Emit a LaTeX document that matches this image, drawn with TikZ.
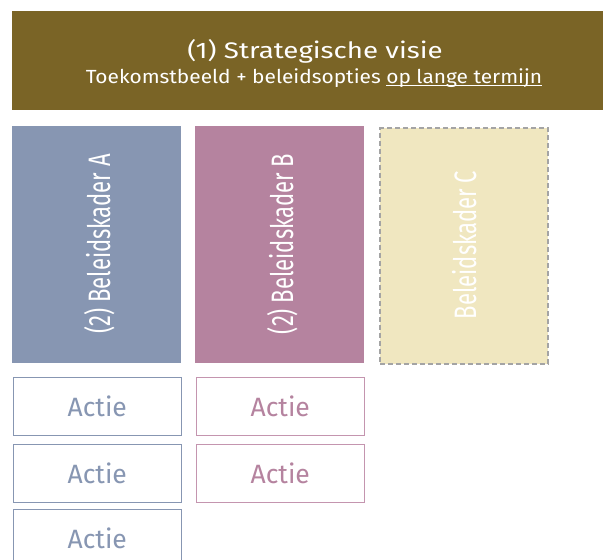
\documentclass[tikz,border=0pt]{standalone}
\usepackage{fontspec}
\setmainfont{Fira Sans}
\definecolor{banner}{HTML}{7A6426}
\definecolor{colA}{HTML}{8796B2}
\definecolor{colB}{HTML}{B5839F}
\definecolor{colBline}{HTML}{C495AF}
\definecolor{colC}{HTML}{F0E7C0}
\definecolor{dashgray}{HTML}{A4A4A4}
\tikzset{
  kader/.style={minimum width=169pt, minimum height=237pt, inner sep=0pt, text=white},
  actie/.style={draw, line width=1.3pt, fill=white, minimum width=168pt, minimum height=58pt, inner sep=0pt, font=\fontsize{26.5}{30}\selectfont},
  vlabel/.style={font=\fontsize{31}{34}\selectfont, rotate=90, anchor=base, inner sep=0pt, text=white}
}
\newcommand{\cond}[1]{\scalebox{0.71}[1]{#1}}
\newcommand{\wider}[2]{\scalebox{#1}[1]{#2}}
\newcommand{\myul}[1]{\sbox0{#1}\rlap{\rule[-2.4pt]{\wd0}{0.9pt}}\usebox0}
\begin{document}
\begin{tikzpicture}[x=1pt,y=-1pt]
\useasboundingbox (0,0) rectangle (603,560);
\begin{scope}
\clip (0,0) rectangle (603,560);
% banner
\node[fill=banner, minimum width=591pt, minimum height=99pt, inner sep=0pt, anchor=north west] (visie) at (12,11) {};
\node[text=white, font=\fontsize{22.5}{26}\selectfont, anchor=base, inner sep=0pt] (titel) at (315,58.3) {\wider{1.23}{(1) Strategische visie}};
\node[text=white, font=\fontsize{19}{22}\selectfont, anchor=base, inner sep=0pt] (sub) at (314,83.3) {\wider{1.1}{Toekomstbeeld + beleidsopties \myul{op lange termijn}}};
% frameworks
\node[kader, fill=colA, anchor=north west] (A) at (12,126) {};
\node[kader, fill=colB, anchor=north west] (B) at (195,126) {};
\node[kader, fill=colC, draw=dashgray, line width=2pt, dash pattern=on 5pt off 3pt, minimum width=168pt, minimum height=235.5pt, anchor=north west] (C) at (379,127) {};
\node[vlabel] (Alab) at (110,244) {\cond{(2) Beleidskader A}};
\node[vlabel] (Blab) at (293,244) {\cond{(2) Beleidskader B}};
\node[vlabel] (Clab) at (476,245) {\cond{Beleidskader C}};
% actions
\node[actie, draw=colA, text=colA, anchor=north west] (a1) at (12.6,376.6) {Actie};
\node[actie, draw=colA, text=colA, anchor=north west] (a2) at (12.6,443.6) {Actie};
\node[actie, draw=colA, text=colA, anchor=north west] (a3) at (12.6,508.6) {Actie};
\node[actie, draw=colBline, text=colB, anchor=north west] (b1) at (195.6,376.6) {Actie};
\node[actie, draw=colBline, text=colB, anchor=north west] (b2) at (195.6,443.6) {Actie};
\end{scope}
\end{tikzpicture}
\end{document}
